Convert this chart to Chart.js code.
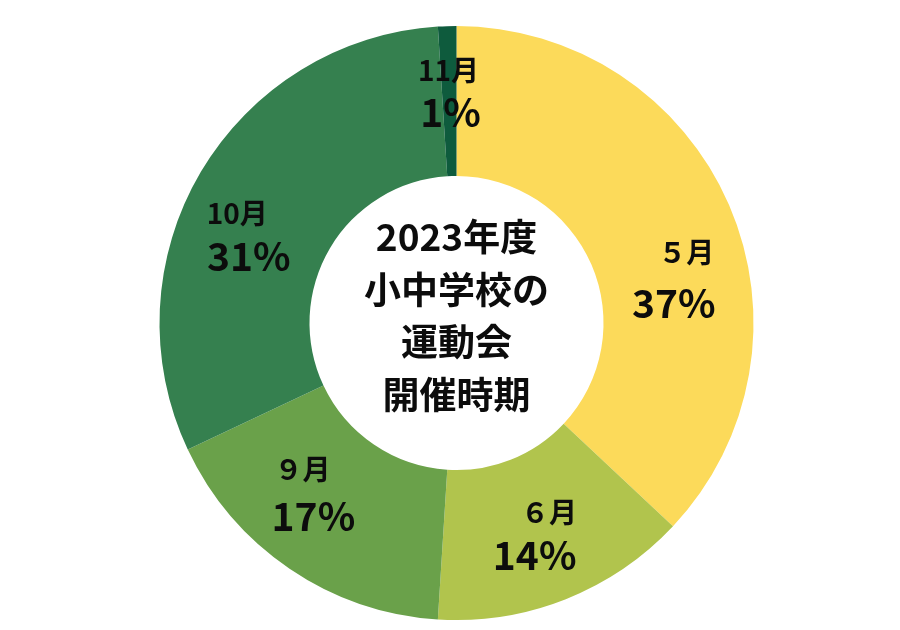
<!DOCTYPE html>
<html>
<head>
<meta charset="utf-8">
<script src="https://cdn.jsdelivr.net/npm/chart.js@4"></script>
<style>
    body { margin: 0; background: #fff; }
    #wrap { width: 900px; height: 630px; }
</style>
</head>
<body>
<div id="wrap"><canvas id="chart"></canvas></div>
<script>
// data
const months = ["５月", "６月", "９月", "10月", "11月"];
const shares = [37, 14, 17, 31, 1];
const centerLines = ["2023年度", "小中学校の", "運動会", "開催時期"];

const sliceColors = ["#FCDA5A", "#B1C44D", "#6AA14A", "#35804F", "#0E5B3D"];

// where each label sits: angle (deg, clockwise from top) and radius as share of outer radius
const monthPos = [[72.8, 0.81], [154, 0.71], [226.5, 0.715], [296.5, 0.825], [-1.8, 0.85]];
const pctPos = [[84.7, 0.735], [161.4, 0.825], [216.5, 0.81], [287.9, 0.735], [-1.6, 0.71]];

const FONT = '"Noto Sans CJK JP", "Noto Sans", sans-serif';

const labelPlugin = {
    id: "labels",
    afterDatasetsDraw(chart) {
        let c = chart.ctx;
        let arcs = chart.getDatasetMeta(0).data;
        c.save();
        c.fillStyle = "#0c0c0c";
        c.textAlign = "center";
        c.textBaseline = "middle";

        arcs.forEach((arc, i) => {
            let p = arc.getProps(["x", "y", "outerRadius"], true);
            let put = (pos, text, size) => {
                let a = pos[0] * Math.PI / 180;
                let r = pos[1] * p.outerRadius;
                c.font = "bold " + size + "px " + FONT;
                c.fillText(text, p.x + Math.sin(a) * r, p.y - Math.cos(a) * r);
            };
            put(monthPos[i], months[i], 28);
            put(pctPos[i], shares[i] + "%", 39);
        });

        // centre title
        let p0 = arcs[0].getProps(["x", "y"], true);
        c.font = "bold 37px " + FONT;
        let gap = 52.7;
        centerLines.forEach((t, i) => {
            c.fillText(t, p0.x, p0.y + (i - (centerLines.length - 1) / 2) * gap - 7);
        });
        c.restore();
    }
};

let ctx = document.getElementById("chart").getContext("2d");
let chart = new Chart(ctx, {
    type: "doughnut",
    data: {
        labels: months,
        datasets: [
            {
                data: shares,
                backgroundColor: sliceColors,
                borderWidth: 0,
            },
        ],
    },
    options: {
        responsive: true,
        maintainAspectRatio: false,
        animation: false,
        cutout: "49.5%",
        layout: { padding: { top: 26, bottom: 10, left: 13, right: 0 } },
        plugins: {
            legend: { display: false },
            tooltip: { enabled: false },
        },
    },
    plugins: [labelPlugin],
});
</script>
</body>
</html>
